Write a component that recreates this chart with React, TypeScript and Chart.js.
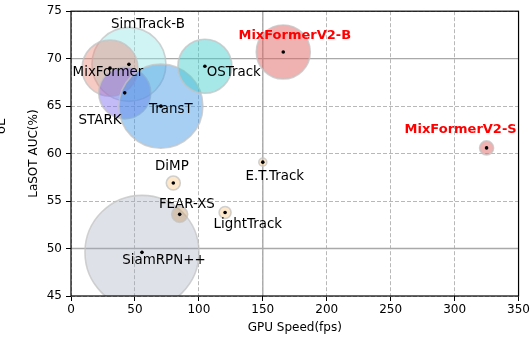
import React, { useEffect, useRef } from "react";
import { Chart, registerables } from "chart.js";

Chart.register(...registerables);

const trackers = ["SiamRPN++", "SimTrack-B", "MixFormer", "STARK", "TransT", "OSTrack", "MixFormerV2-B", "DiMP", "FEAR-XS", "LightTrack", "E.T.Track", "MixFormerV2-S"];
const fps = [55.5, 45.3, 30.5, 42, 70.3, 104.7, 166, 80, 85, 120.5, 150, 325];
const auc = [49.6, 69.4, 69.0, 66.4, 65.0, 69.2, 70.7, 56.9, 53.6, 53.8, 59.1, 60.6];
const bubbleSize = [57, 37, 28, 26, 42, 27, 27, 7, 8, 6, 4, 7];
const labelFps = [72.7, 60.2, 28.9, 22.7, 78.1, 127.3, 175, 78.9, 90.6, 138.3, 159.4, 304.7];
const labelAuc = [48.7, 73.6, 68.5, 63.45, 64.6, 68.5, 72.4, 58.6, 54.6, 52.5, 57.6, 62.5];
const highlight = [false, false, false, false, false, false, true, false, false, false, false, true];
const xTicks = [0, 50, 100, 150, 200, 250, 300, 350];
const yTicks = [45, 50, 55, 60, 65, 70, 75];
const solidX = [150];
const solidY = [50, 70];

const fillColors = [
  "rgba(160,170,185,0.35)",
  "rgba(150,230,230,0.45)",
  "rgba(230,130,115,0.42)",
  "rgba(123,104,238,0.45)",
  "rgba(70,155,230,0.48)",
  "rgba(70,205,205,0.48)",
  "rgba(225,100,100,0.5)",
  "rgba(250,205,140,0.45)",
  "rgba(200,160,110,0.45)",
  "rgba(250,205,140,0.45)",
  "rgba(250,205,140,0.45)",
  "rgba(225,100,100,0.5)",
];

const FONT = "'DejaVu Sans'";

const overlayPlugin = {
  id: "overlay",
  beforeDatasetsDraw(chart: any) {
    const { ctx, chartArea, scales } = chart;
    ctx.save();
    ctx.strokeStyle = "#a9a9a9";
    ctx.lineWidth = 1.4;
    ctx.setLineDash([]);
    solidY.forEach((v) => {
      const y = scales.y.getPixelForValue(v);
      ctx.beginPath();
      ctx.moveTo(chartArea.left, y);
      ctx.lineTo(chartArea.right, y);
      ctx.stroke();
    });
    solidX.forEach((v) => {
      const x = scales.x.getPixelForValue(v);
      ctx.beginPath();
      ctx.moveTo(x, chartArea.top);
      ctx.lineTo(x, chartArea.bottom);
      ctx.stroke();
    });
    ctx.restore();
  },
  afterDatasetsDraw(chart: any) {
    const { ctx, scales } = chart;
    ctx.save();
    ctx.textAlign = "center";
    ctx.textBaseline = "middle";
    trackers.forEach((name, i) => {
      const x = scales.x.getPixelForValue(labelFps[i]);
      const y = scales.y.getPixelForValue(labelAuc[i]);
      if (highlight[i]) {
        ctx.font = `bold 13px ${FONT}`;
        ctx.fillStyle = "#ff0000";
      } else {
        ctx.font = `13.4px ${FONT}`;
        ctx.fillStyle = "#000000";
      }
      ctx.fillText(name, x, y);
    });
    ctx.restore();
  },
  afterDraw(chart: any) {
    const { ctx, chartArea } = chart;
    ctx.save();
    ctx.strokeStyle = "#000";
    ctx.lineWidth = 1.2;
    ctx.setLineDash([]);
    ctx.strokeRect(chartArea.left, chartArea.top, chartArea.right - chartArea.left, chartArea.bottom - chartArea.top);
    // partially clipped rotated text at far left
    ctx.translate(4.5, 134);
    ctx.rotate(-Math.PI / 2);
    ctx.font = `13px ${FONT}`;
    ctx.fillStyle = "#000";
    ctx.textAlign = "left";
    ctx.textBaseline = "alphabetic";
    ctx.fillText("oL", 0, 0);
    ctx.restore();
  },
};

export default function App() {
  const ref = useRef<HTMLCanvasElement | null>(null);
  useEffect(() => {
    if (!ref.current) return;
    Chart.defaults.font.family = FONT;
    const bubbles = trackers.map((_, i) => ({ x: fps[i], y: auc[i], r: bubbleSize[i] }));
    const dots = trackers.map((_, i) => ({ x: fps[i], y: auc[i], r: 1.8 }));
    const chart = new Chart(ref.current, {
      type: "bubble",
      data: {
        datasets: [
          {
            label: "dots",
            data: dots,
            backgroundColor: "#000",
            borderWidth: 0,
            clip: 0,
          } as any,
          {
            label: "trackers",
            data: bubbles,
            backgroundColor: fillColors,
            borderColor: "rgba(195,195,195,0.75)",
            borderWidth: 1.6,
            clip: 0,
          } as any,
        ],
      },
      options: {
        responsive: false,
        animation: false,
        events: [],
        layout: { autoPadding: false, padding: { top: 5, right: 13, left: 0, bottom: 0 } },
        plugins: { legend: { display: false }, tooltip: { enabled: false } },
        scales: {
          x: {
            type: "linear",
            min: 0,
            max: 350,
            afterBuildTicks: (s: any) => {
              s.ticks = xTicks.map((v) => ({ value: v }));
            },
            afterFit: (s: any) => {
              s.height = 42;
            },
            ticks: { color: "#000", font: { size: 12, family: FONT }, padding: 2, maxRotation: 0 },
            grid: { color: "#b8b8b8", lineWidth: 1, tickColor: "#000", tickLength: 5, tickWidth: 1, tickBorderDash: [] },
            border: { display: false, dash: [4, 2] },
            title: { display: true, text: "GPU Speed(fps)", color: "#000", font: { size: 12, family: FONT }, padding: { top: 0, bottom: 3 } },
          },
          y: {
            type: "linear",
            min: 45,
            max: 75,
            afterBuildTicks: (s: any) => {
              s.ticks = yTicks.map((v) => ({ value: v }));
            },
            afterFit: (s: any) => {
              s.width = 71;
            },
            ticks: { color: "#000", font: { size: 12, family: FONT }, padding: 4 },
            grid: { color: "#b8b8b8", lineWidth: 1, tickColor: "#000", tickLength: 5, tickWidth: 1, tickBorderDash: [] },
            border: { display: false, dash: [4, 2] },
            title: { display: true, text: "LaSOT AUC(%)", color: "#000", font: { size: 12, family: FONT }, padding: { top: 27, bottom: 0 } },
          },
        },
      } as any,
      plugins: [overlayPlugin],
    });
    return () => chart.destroy();
  }, []);
  return (
    <div style={{ position: "absolute", left: 0, top: 0, width: 532, height: 338, background: "#fff" }}>
      <canvas ref={ref} width={532} height={338} style={{ display: "block", width: 532, height: 338 }} />
    </div>
  );
}
